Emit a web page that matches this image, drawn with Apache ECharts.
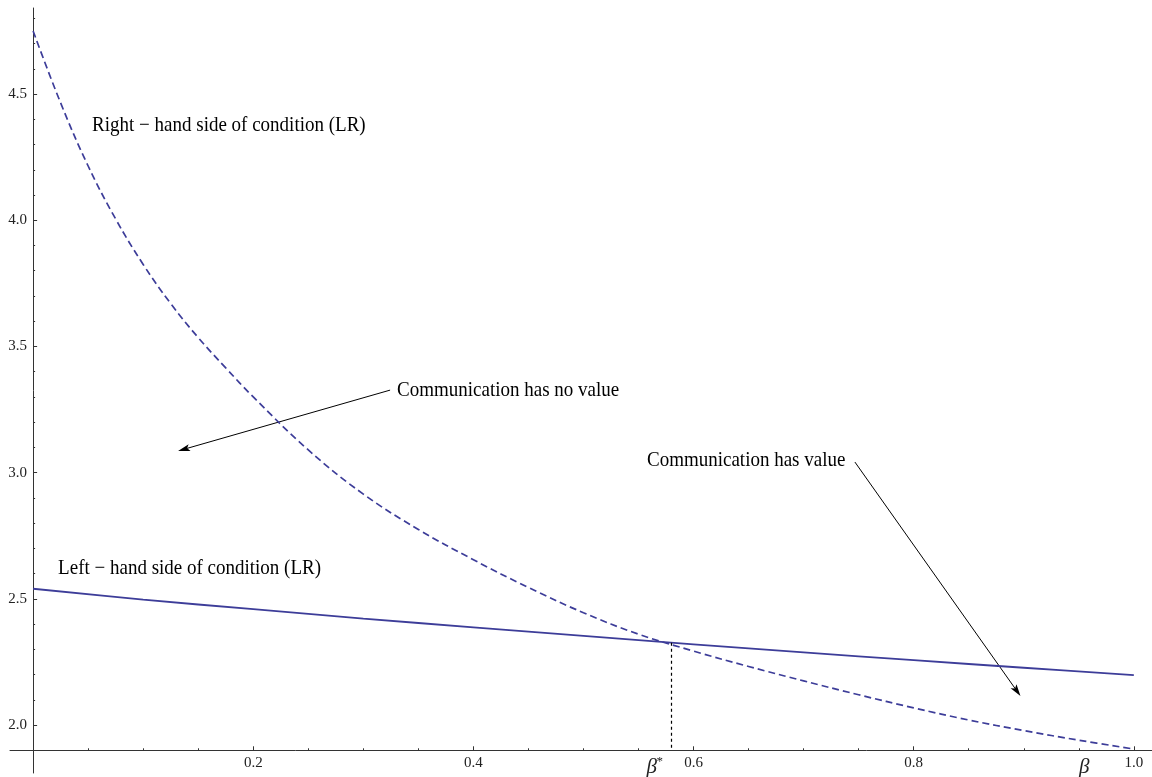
<!DOCTYPE html>
<html>
<head>
<meta charset="utf-8">
<script src="https://cdn.jsdelivr.net/npm/echarts@6/dist/echarts.min.js"></script>
<style>
html,body{margin:0;padding:0;background:#fff;}
#c{width:1152px;height:777px;}
</style>
</head>
<body>
<div id="c"></div>
<script>
// ---------------- DATA ----------------
const rhsBeta   = [0, 0.025, 0.05, 0.075, 0.1, 0.125, 0.15, 0.175, 0.2, 0.25, 0.3, 0.35, 0.4, 0.45, 0.5, 0.55, 0.6, 0.65, 0.7, 0.75, 0.8, 0.85, 0.9, 0.95, 1.0];
const rhsValues = [4.75, 4.465, 4.215, 4.005, 3.825, 3.67, 3.535, 3.415, 3.30, 3.09, 2.915, 2.775, 2.655, 2.545, 2.445, 2.36, 2.293, 2.232, 2.175, 2.12, 2.068, 2.02, 1.978, 1.94, 1.905];
const lhsBeta   = [0, 0.1, 0.2, 0.3, 0.4, 0.5, 0.6, 0.7, 0.8, 0.9, 1.0];
const lhsValues = [2.540, 2.497, 2.459, 2.422, 2.387, 2.353, 2.320, 2.288, 2.257, 2.227, 2.198];

const xMajorTicks = [0.2, 0.4, 0.6, 0.8, 1.0];
const xTickLabels = ['0.2', '0.4', '0.6', '0.8', '1.0'];
const xMinorTicks = [0.05, 0.1, 0.15, 0.25, 0.3, 0.35, 0.45, 0.5, 0.55, 0.65, 0.7, 0.75, 0.85, 0.9, 0.95];
const yMajorTicks = [2.0, 2.5, 3.0, 3.5, 4.0, 4.5];
const yTickLabels = ['2.0', '2.5', '3.0', '3.5', '4.0', '4.5'];
const yMinorTicks = [2.1, 2.2, 2.3, 2.4, 2.6, 2.7, 2.8, 2.9, 3.1, 3.2, 3.3, 3.4, 3.6, 3.7, 3.8, 3.9, 4.1, 4.2, 4.3, 4.4, 4.6, 4.7, 4.8];

const betaStar = 0.58;
const crossValue = 2.326;
const axisCrossX = 0;
const axisCrossY = 1.9;
const xRange = [-0.021, 1.0165];
const yRange = [1.81, 4.841];

// annotation texts (anchor in data coordinates)
const textRHS = 'Right \u2212 hand side of condition (LR)';
const textLHS = 'Left \u2212 hand side of condition (LR)';
const textNoValue = 'Communication has no value';
const textHasValue = 'Communication has value';

// ---------------- LAYOUT / STYLE ----------------
const FONT = '"Liberation Serif", "Times New Roman", serif';
const CURVE = '#3d3d99';
const AXIS = '#333';
const W = 1152, H = 777;
const gridBox = {left: 10, right: 0, top: 8, bottom: 4};

const textAnchors = [
  {text: textRHS, at: [0.0536, 4.377]},
  {text: textLHS, at: [0.0227, 2.622]},
  {text: textNoValue, at: [0.3306, 3.327]},
  {text: textHasValue, at: [0.5577, 3.050]}
];
const arrows = [
  {from: [0.3243, 3.327], to: [0.1317, 3.086]},
  {from: [0.7466, 3.042], to: [0.897, 2.115]}
];
const betaStarLabelAt = 0.562;
const betaLabelAt = 0.955;

function nearestLabel(list, labels, v) {
  let best = 0;
  for (let i = 1; i < list.length; i++) {
    if (Math.abs(list[i] - v) < Math.abs(list[best] - v)) best = i;
  }
  return labels[best];
}

function xAxisCfg(major) {
  return {
    type: 'value', min: xRange[0], max: xRange[1], position: 'bottom', offset: 0,
    axisLine: {show: major, onZero: false, lineStyle: {color: AXIS, width: 1}},
    axisTick: {show: true, inside: true, length: major ? 4 : 2,
      customValues: major ? xMajorTicks : xMinorTicks, lineStyle: {color: AXIS, width: 1}},
    axisLabel: major ? {show: true, customValues: xMajorTicks,
      formatter: v => nearestLabel(xMajorTicks, xTickLabels, v),
      margin: 5, fontFamily: FONT, fontSize: 15, color: '#222'} : {show: false},
    splitLine: {show: false}, minorTick: {show: false}
  };
}
function yAxisCfg(major) {
  return {
    type: 'value', min: yRange[0], max: yRange[1], position: 'left', offset: 0,
    axisLine: {show: major, onZero: false, lineStyle: {color: AXIS, width: 1}},
    axisTick: {show: true, inside: true, length: major ? 4 : 2,
      customValues: major ? yMajorTicks : yMinorTicks, lineStyle: {color: AXIS, width: 1}},
    axisLabel: major ? {show: true, customValues: yMajorTicks,
      formatter: v => nearestLabel(yMajorTicks, yTickLabels, v),
      margin: 6, fontFamily: FONT, fontSize: 15, color: '#222'} : {show: false},
    splitLine: {show: false}, minorTick: {show: false}
  };
}

const chart = echarts.init(document.getElementById('c'), null, {renderer: 'canvas', width: W, height: H});

chart.setOption({
  animation: false,
  backgroundColor: '#fff',
  grid: {left: gridBox.left, right: gridBox.right, top: gridBox.top, bottom: gridBox.bottom,
    containLabel: false, outerBoundsMode: 'none'},
  xAxis: [xAxisCfg(true), xAxisCfg(false)],
  yAxis: [yAxisCfg(true), yAxisCfg(false)],
  series: [
    {
      name: 'Right-hand side', type: 'line', xAxisIndex: 0, yAxisIndex: 0,
      data: rhsBeta.map((b, i) => [b, rhsValues[i]]),
      smooth: 0.4, showSymbol: false, silent: true,
      lineStyle: {color: CURVE, width: 1.7, type: [7, 4]}
    },
    {
      name: 'Left-hand side', type: 'line', xAxisIndex: 0, yAxisIndex: 0,
      data: lhsBeta.map((b, i) => [b, lhsValues[i]]),
      smooth: 0.4, showSymbol: false, silent: true,
      lineStyle: {color: CURVE, width: 1.8, type: 'solid'},
      markLine: {
        silent: true, symbol: 'none', animation: false,
        label: {show: false},
        lineStyle: {color: '#000', width: 1.2, type: [3, 3]},
        data: [[{coord: [betaStar, crossValue]}, {coord: [betaStar, axisCrossY]}]]
      }
    }
  ]
});

// place axes so they cross at (axisCrossX, axisCrossY), then add annotations
const cross = chart.convertToPixel({gridIndex: 0}, [axisCrossX, axisCrossY]);
const xOff = cross[1] - (H - gridBox.bottom);
const yOff = gridBox.left - cross[0];
const px = p => chart.convertToPixel({gridIndex: 0}, p);

const graphics = [];
textAnchors.forEach(t => {
  const p = px(t.at);
  graphics.push({
    type: 'text', x: p[0], y: p[1], scaleY: 1.1, silent: true,
    style: {text: t.text, font: '19px ' + FONT, fill: '#000',
      align: 'left', verticalAlign: 'middle', textAlign: 'left', textVerticalAlign: 'middle'}
  });
});
arrows.forEach(a => {
  const s = px(a.from), e = px(a.to);
  const dx = e[0] - s[0], dy = e[1] - s[1];
  const len = Math.hypot(dx, dy);
  const ux = dx / len, uy = dy / len, nx = -uy, ny = ux;
  const L = 12, Wd = 3.6;
  graphics.push({type: 'line', silent: true,
    shape: {x1: s[0], y1: s[1], x2: e[0] - ux * 8, y2: e[1] - uy * 8},
    style: {stroke: '#000', lineWidth: 1}});
  graphics.push({type: 'polygon', silent: true,
    shape: {points: [
      [e[0], e[1]],
      [e[0] - ux * L + nx * Wd, e[1] - uy * L + ny * Wd],
      [e[0] - ux * L * 0.78, e[1] - uy * L * 0.78],
      [e[0] - ux * L - nx * Wd, e[1] - uy * L - ny * Wd]
    ]},
    style: {fill: '#000'}});
});
const bsx = px([betaStarLabelAt, axisCrossY])[0];
const bx = px([betaLabelAt, axisCrossY])[0];
const labelY = cross[1] + 17;
graphics.push({type: 'text', x: bsx, y: labelY, silent: true,
  style: {text: '\u03B2', font: 'italic 21px ' + FONT, fill: '#222', align: 'center', verticalAlign: 'middle', textAlign: 'center', textVerticalAlign: 'middle'}});
graphics.push({type: 'text', x: bsx + 8, y: labelY - 6, silent: true,
  style: {text: '*', font: '13px ' + FONT, fill: '#222', align: 'center', verticalAlign: 'middle', textAlign: 'center', textVerticalAlign: 'middle'}});
graphics.push({type: 'text', x: bx, y: labelY, silent: true,
  style: {text: '\u03B2', font: 'italic 21px ' + FONT, fill: '#222', align: 'center', verticalAlign: 'middle', textAlign: 'center', textVerticalAlign: 'middle'}});

chart.setOption({
  xAxis: [{offset: xOff}, {offset: xOff}],
  yAxis: [{offset: yOff}, {offset: yOff}],
  graphic: graphics
});
</script>
</body>
</html>
